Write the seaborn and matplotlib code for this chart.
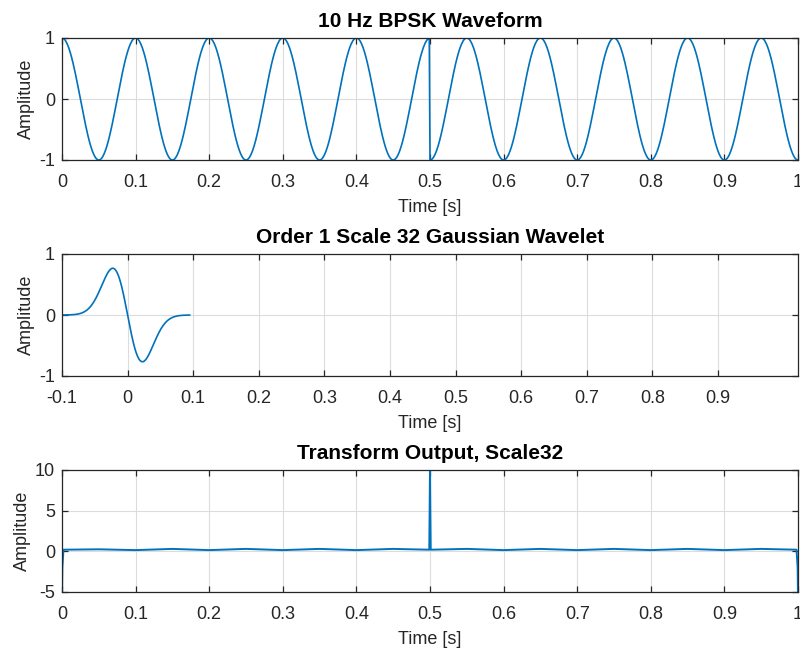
import numpy as np
import pandas as pd
import matplotlib
matplotlib.use("Agg")
import matplotlib.pyplot as plt
import seaborn as sns

# ---- signal parameters ----
carrier_hz = 10.0          # BPSK carrier frequency
sample_rate = 1000.0       # samples per second
symbol_edges = [0.0, 0.5, 1.0]
symbol_values = [1, -1]    # phase of each symbol

wavelet_scale = 32         # scale in samples
wavelet_span = [-0.1, 0.095]

# transform output, read point by point (time, amplitude)
transform_t = [0.0, 0.0005, 0.002, 0.05, 0.1, 0.15, 0.2, 0.25, 0.3, 0.35, 0.4, 0.45,
               0.499, 0.4995, 0.5, 0.5005, 0.501, 0.55, 0.6, 0.65, 0.7, 0.75, 0.8,
               0.85, 0.9, 0.95, 0.998, 0.9995, 1.0]
transform_y = [-5.5, -2.0, 0.2, 0.25, 0.15, 0.3, 0.15, 0.3, 0.15, 0.3, 0.15, 0.3,
               0.2, 5.0, 10.5, 5.0, 0.2, 0.3, 0.15, 0.3, 0.15, 0.3, 0.15,
               0.3, 0.15, 0.3, 0.2, -2.0, -5.5]

time_ticks = [0, 0.1, 0.2, 0.3, 0.4, 0.5, 0.6, 0.7, 0.8, 0.9, 1]
time_tick_labels = ["0", "0.1", "0.2", "0.3", "0.4", "0.5", "0.6", "0.7", "0.8", "0.9", "1"]
wavelet_ticks = [-0.1, 0, 0.1, 0.2, 0.3, 0.4, 0.5, 0.6, 0.7, 0.8, 0.9]
wavelet_tick_labels = ["-0.1", "0", "0.1", "0.2", "0.3", "0.4", "0.5", "0.6", "0.7", "0.8", "0.9"]

# ---- build the curves ----
t = np.arange(0, 1.0 + 0.5 / sample_rate, 1 / sample_rate)
sym = np.where(t < symbol_edges[1], symbol_values[0], symbol_values[1])
bpsk = pd.DataFrame({"t": t, "y": sym * np.cos(2 * np.pi * carrier_hz * t)})

tw = np.arange(wavelet_span[0], wavelet_span[1] + 0.5 / sample_rate, 1 / sample_rate)
xw = tw * sample_rate / wavelet_scale
gaus1 = -2 * xw * np.exp(-xw ** 2) / (np.pi / 2) ** 0.25
wave = pd.DataFrame({"t": tw, "y": gaus1})

trans = pd.DataFrame({"t": transform_t, "y": transform_y})

# ---- style ----
sns.set_style("white")
plt.rcParams["font.family"] = ["Liberation Sans", "DejaVu Sans"]
plt.rcParams["axes.unicode_minus"] = False

LINE = "#0072BD"
DARK = "#262626"
TICK_FS = 13
TITLE_FS = 15

fig = plt.figure(figsize=(8.0, 6.48), dpi=100)
W, H = 800, 648

def make_axes(top_px, bottom_px, left_px=62, right_px=798):
    return fig.add_axes([left_px / W, 1 - bottom_px / H,
                         (right_px - left_px) / W, (bottom_px - top_px) / H])

ax1 = make_axes(38, 160)
ax2 = make_axes(254, 376)
ax3 = make_axes(470, 592)

def style(ax, title, xlim, ylim, xticks, xlabels, yticks, ylabels):
    ax.set_xlim(*xlim)
    ax.set_ylim(*ylim)
    ax.set_xticks(xticks)
    ax.set_xticklabels(xlabels)
    ax.set_yticks(yticks)
    ax.set_yticklabels(ylabels)
    ax.grid(True, color="#dcdcdc", linewidth=0.8)
    ax.set_axisbelow(True)
    for s in ax.spines.values():
        s.set_visible(True)
        s.set_color(DARK)
        s.set_linewidth(0.9)
    ax.tick_params(direction="in", length=4, width=0.9, color=DARK,
                   labelsize=TICK_FS, labelcolor=DARK, top=True, right=True,
                   bottom=True, left=True)
    ax.tick_params(axis="x", pad=10)
    ax.tick_params(axis="y", pad=5)
    ax.set_title(title, fontsize=TITLE_FS, fontweight="bold", color="black", pad=8)
    ax.set_xlabel("Time [s]", fontsize=TICK_FS, color=DARK, labelpad=6)
    ax.set_ylabel("Amplitude", fontsize=TICK_FS, color=DARK, labelpad=3)

sns.lineplot(data=bpsk, x="t", y="y", ax=ax1, color=LINE, linewidth=1.2,
             sort=False, estimator=None)
style(ax1, "10 Hz BPSK Waveform", (0, 1), (-1, 1), time_ticks, time_tick_labels,
      [-1, 0, 1], ["-1", "0", "1"])

sns.lineplot(data=wave, x="t", y="y", ax=ax2, color=LINE, linewidth=1.2,
             sort=False, estimator=None)
style(ax2, "Order 1 Scale 32 Gaussian Wavelet", (-0.1, 1.022), (-1, 1),
      wavelet_ticks, wavelet_tick_labels, [-1, 0, 1], ["-1", "0", "1"])

sns.lineplot(data=trans, x="t", y="y", ax=ax3, color=LINE, linewidth=1.4,
             sort=False, estimator=None)
style(ax3, "Transform Output, Scale32", (0, 1), (-5, 10), time_ticks, time_tick_labels,
      [-5, 0, 5, 10], ["-5", "0", "5", "10"])

fig.savefig("out.png", dpi=100)
